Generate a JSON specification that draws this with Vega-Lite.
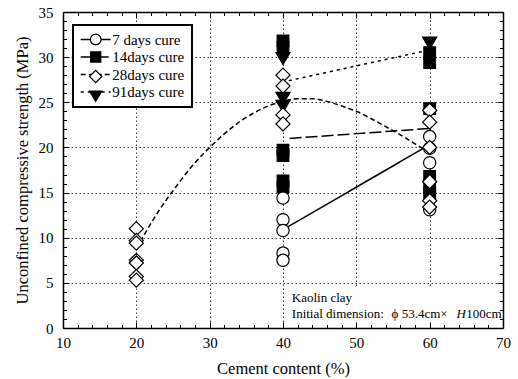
{
  "$schema": "https://vega.github.io/schema/vega-lite/v6.json",
  "width": 440,
  "height": 316,
  "autosize": {"type": "none"},
  "padding": {"left": 63, "top": 12, "right": 15, "bottom": 51},
  "background": "white",
  "config": {
    "view": {"stroke": null},
    "font": "Liberation Serif, Times New Roman, serif",
    "axis": {
      "labelFont": "Liberation Serif, Times New Roman, serif", "titleFont": "Liberation Serif, Times New Roman, serif",
      "labelColor": "black", "titleColor": "black",
      "labelFontSize": 15, "titleFontSize": 16.5, "titleFontWeight": "normal",
      "domainColor": "black", "tickColor": "black",
      "labelFlush": false, "labelOverlap": false
    },
    "legend": {"labelFont": "Liberation Serif, Times New Roman, serif", "labelFontSize": 15, "labelColor": "black"}
  },
  "datasets": {
    "points": [
      {"series": "14d", "x": 40, "y": 31.8},
      {"series": "14d", "x": 40, "y": 31.1},
      {"series": "14d", "x": 40, "y": 19.7},
      {"series": "14d", "x": 40, "y": 19.1},
      {"series": "14d", "x": 40, "y": 16.3},
      {"series": "14d", "x": 40, "y": 15.6},
      {"series": "14d", "x": 60, "y": 30.5},
      {"series": "14d", "x": 60, "y": 29.4},
      {"series": "14d", "x": 60, "y": 24.3},
      {"series": "14d", "x": 60, "y": 16.8},
      {"series": "14d", "x": 60, "y": 15.7},
      {"series": "14d", "x": 60, "y": 14.9},
      {"series": "91d", "x": 40, "y": 30.0},
      {"series": "91d", "x": 40, "y": 25.6},
      {"series": "91d", "x": 40, "y": 24.7},
      {"series": "91d", "x": 60, "y": 31.7},
      {"series": "7d", "x": 40, "y": 14.4},
      {"series": "7d", "x": 40, "y": 12.0},
      {"series": "7d", "x": 40, "y": 10.8},
      {"series": "7d", "x": 40, "y": 8.3},
      {"series": "7d", "x": 40, "y": 7.5},
      {"series": "7d", "x": 60, "y": 21.2},
      {"series": "7d", "x": 60, "y": 19.9},
      {"series": "7d", "x": 60, "y": 18.3},
      {"series": "7d", "x": 60, "y": 13.1},
      {"series": "28d", "x": 20, "y": 11.0},
      {"series": "28d", "x": 20, "y": 9.7},
      {"series": "28d", "x": 20, "y": 9.4},
      {"series": "28d", "x": 20, "y": 7.5},
      {"series": "28d", "x": 20, "y": 7.2},
      {"series": "28d", "x": 20, "y": 5.7},
      {"series": "28d", "x": 20, "y": 5.3},
      {"series": "28d", "x": 40, "y": 28.0},
      {"series": "28d", "x": 40, "y": 26.8},
      {"series": "28d", "x": 40, "y": 23.6},
      {"series": "28d", "x": 40, "y": 22.6},
      {"series": "28d", "x": 60, "y": 24.1},
      {"series": "28d", "x": 60, "y": 22.8},
      {"series": "28d", "x": 60, "y": 20.0},
      {"series": "28d", "x": 60, "y": 16.2},
      {"series": "28d", "x": 60, "y": 14.1},
      {"series": "28d", "x": 60, "y": 13.4}
    ],
    "lines": [
      {"curve": "7 days cure", "x": 40, "y": 10.9},
      {"curve": "7 days cure", "x": 60, "y": 20.3},
      {"curve": "14days cure", "x": 40.9, "y": 21.0},
      {"curve": "14days cure", "x": 60, "y": 22.1},
      {"curve": "91days cure", "x": 40.8, "y": 27.4},
      {"curve": "91days cure", "x": 60, "y": 30.8},
      {"curve": "28days cure", "x": 20, "y": 8.8},
      {"curve": "28days cure", "x": 21, "y": 10.2},
      {"curve": "28days cure", "x": 22, "y": 11.6},
      {"curve": "28days cure", "x": 23, "y": 12.9},
      {"curve": "28days cure", "x": 24, "y": 14.1},
      {"curve": "28days cure", "x": 25, "y": 15.2},
      {"curve": "28days cure", "x": 26, "y": 16.3},
      {"curve": "28days cure", "x": 28, "y": 18.3},
      {"curve": "28days cure", "x": 30, "y": 20.0},
      {"curve": "28days cure", "x": 32, "y": 21.5},
      {"curve": "28days cure", "x": 34, "y": 22.8},
      {"curve": "28days cure", "x": 36, "y": 23.8},
      {"curve": "28days cure", "x": 38, "y": 24.6},
      {"curve": "28days cure", "x": 40, "y": 25.1},
      {"curve": "28days cure", "x": 42, "y": 25.4},
      {"curve": "28days cure", "x": 44, "y": 25.4},
      {"curve": "28days cure", "x": 46, "y": 25.1},
      {"curve": "28days cure", "x": 48, "y": 24.6},
      {"curve": "28days cure", "x": 50, "y": 24.0},
      {"curve": "28days cure", "x": 52, "y": 23.2},
      {"curve": "28days cure", "x": 54, "y": 22.3},
      {"curve": "28days cure", "x": 56, "y": 21.4},
      {"curve": "28days cure", "x": 58, "y": 20.4},
      {"curve": "28days cure", "x": 60, "y": 19.4}
    ],
    "box": [{"x1": 40.3, "x2": 70, "y1": 0, "y2": 4.55}],
    "note1": [{"x": 41.2, "y": 3.3, "t": "Kaolin clay"}],
    "note2": [
      {"x": 41.2, "y": 1.6, "t": "Initial dimension:"},
      {"x": 54.8, "y": 1.6, "t": "ϕ 53.4cm×"}
    ],
    "note3": [{"x": 64.95, "y": 1.6, "t": "H"}],
    "note4": [{"x": 69.8, "y": 1.6, "t": "100cm"}]
  },
  "layer": [
    {
      "data": {"name": "box"},
      "mark": {"type": "rect", "fill": "white", "stroke": null},
      "encoding": {
        "x": {"field": "x1", "type": "quantitative", "scale": {"domain": [10, 70], "nice": false, "zero": false},
          "axis": {"orient": "bottom", "values": [10, 20, 30, 40, 50, 60, 70], "ticks": false, "domain": false, "grid": true,
            "gridColor": "black", "gridDash": [1.5, 2.5], "gridWidth": 0.8, "labelPadding": 7,
            "title": "Cement content (%)", "titlePadding": 10, "zindex": 0}},
        "x2": {"field": "x2"},
        "y": {"field": "y1", "type": "quantitative", "scale": {"domain": [0, 35], "nice": false},
          "axis": {"orient": "left", "values": [0, 5, 10, 15, 20, 25, 30, 35], "ticks": false, "domain": false, "grid": true,
            "gridColor": "black", "gridDash": [1.5, 2.5], "gridWidth": 0.8, "labelPadding": 10,
            "title": "Unconfined compressive strength (MPa)", "titlePadding": 8, "zindex": 0}},
        "y2": {"field": "y2"}
      }
    },
    {
      "data": {"name": "lines"},
      "mark": {"type": "line", "color": "black", "strokeWidth": 1.5, "interpolate": "monotone"},
      "encoding": {
        "x": {"field": "x", "type": "quantitative", "scale": {"domain": [10, 70], "nice": false, "zero": false},
          "axis": {"orient": "bottom", "values": [10, 20, 30, 40, 50, 60, 70], "labels": false, "grid": false,
            "domain": true, "domainWidth": 1.5, "tickSize": -6, "tickWidth": 1, "title": null, "zindex": 1}},
        "y": {"field": "y", "type": "quantitative", "scale": {"domain": [0, 35], "nice": false},
          "axis": {"orient": "left", "values": [0, 5, 10, 15, 20, 25, 30, 35], "labels": false, "grid": false,
            "domain": true, "domainWidth": 1.5, "tickSize": -6, "tickWidth": 1, "title": null, "zindex": 1}},
        "detail": {"field": "curve"},
        "strokeDash": {"field": "curve", "type": "nominal",
          "scale": {"domain": ["7 days cure", "14days cure", "28days cure", "91days cure"],
                    "range": [[1, 0], [12, 4], [5, 3], [3, 4]]},
          "legend": {"orient": "none", "legendX": 10, "legendY": 13, "title": null,
            "symbolType": "M-3,0H3", "symbolSize": 100, "symbolStrokeColor": "black", "symbolStrokeWidth": 1.5,
            "symbolOffset": 8.2, "labelOffset": 9, "padding": 7, "rowPadding": 1.5,
            "fillColor": "white", "strokeColor": "black", "zindex": 1,
            "encode": {"legend": {"update": {"strokeWidth": {"value": 2}}}}}}
      }
    },
    {
      "data": {"name": "points"},
      "mark": {"type": "point", "filled": true, "strokeWidth": 1.2, "size": 150, "opacity": 1},
      "encoding": {
        "x": {"field": "x", "type": "quantitative", "scale": {"domain": [10, 70], "nice": false, "zero": false},
          "axis": {"orient": "top", "values": [10, 20, 30, 40, 50, 60, 70], "labels": false, "grid": false,
            "domain": true, "domainWidth": 1.5, "tickSize": -6, "tickWidth": 1, "title": null, "zindex": 1}},
        "y": {"field": "y", "type": "quantitative", "scale": {"domain": [0, 35], "nice": false},
          "axis": {"orient": "right", "values": [0, 5, 10, 15, 20, 25, 30, 35], "labels": false, "grid": false,
            "domain": true, "domainWidth": 1.5, "tickSize": -6, "tickWidth": 1, "title": null, "zindex": 1}},
        "shape": {"field": "series", "type": "nominal",
          "scale": {"domain": ["7d", "14d", "28d", "91d"],
                    "range": ["circle", "M-0.95,-0.95H0.95V0.95H-0.95Z", "M-1.15,0L0,-1.15L1.15,0L0,1.15Z", "M-1.15,-0.75L1.15,-0.75L0,1.2Z"]},
          "legend": {"orient": "none", "legendX": 10, "legendY": 13, "title": null,
            "symbolSize": 115, "symbolStrokeWidth": 1.2,
            "symbolOffset": 8.2, "labelOffset": 9, "padding": 7, "rowPadding": 1.5,
            "labelExpr": "''", "zindex": 2}},
        "fill": {"field": "series", "type": "nominal",
          "scale": {"domain": ["7d", "14d", "28d", "91d"],
                    "range": ["white", "black", "white", "black"]},
          "legend": {"orient": "none", "legendX": 10, "legendY": 13, "title": null,
            "symbolSize": 115, "symbolStrokeWidth": 1.2,
            "symbolOffset": 8.2, "labelOffset": 9, "padding": 7, "rowPadding": 1.5,
            "labelExpr": "''", "zindex": 2}},
        "stroke": {"field": "series", "type": "nominal",
          "scale": {"domain": ["7d", "14d", "28d", "91d"],
                    "range": ["black", "black", "black", "black"]},
          "legend": {"orient": "none", "legendX": 10, "legendY": 13, "title": null,
            "symbolSize": 115, "symbolStrokeWidth": 1.2,
            "symbolOffset": 8.2, "labelOffset": 9, "padding": 7, "rowPadding": 1.5,
            "labelExpr": "''", "zindex": 2}}
      }
    },
    {
      "data": {"name": "note1"},
      "mark": {"type": "text", "font": "Liberation Serif, Times New Roman, serif", "fontSize": 13, "align": "left", "baseline": "middle", "color": "black"},
      "encoding": {
        "x": {"field": "x", "type": "quantitative", "scale": {"domain": [10, 70], "nice": false, "zero": false},
          "axis": {"orient": "bottom", "values": [12, 14, 16, 18, 22, 24, 26, 28, 32, 34, 36, 38, 42, 44, 46, 48, 52, 54, 56, 58, 62, 64, 66, 68],
            "labels": false, "grid": false, "domain": false, "tickSize": -3.5, "tickWidth": 1, "title": null, "zindex": 1}},
        "y": {"field": "y", "type": "quantitative", "scale": {"domain": [0, 35], "nice": false},
          "axis": {"orient": "left", "values": [1, 2, 3, 4, 6, 7, 8, 9, 11, 12, 13, 14, 16, 17, 18, 19, 21, 22, 23, 24, 26, 27, 28, 29, 31, 32, 33, 34],
            "labels": false, "grid": false, "domain": false, "tickSize": -3.5, "tickWidth": 1, "title": null, "zindex": 1}},
        "text": {"field": "t"}
      }
    },
    {
      "data": {"name": "note2"},
      "mark": {"type": "text", "font": "Liberation Serif, Times New Roman, serif", "fontSize": 13, "align": "left", "baseline": "middle", "color": "black"},
      "encoding": {
        "x": {"field": "x", "type": "quantitative", "scale": {"domain": [10, 70], "nice": false, "zero": false},
          "axis": {"orient": "top", "values": [12, 14, 16, 18, 22, 24, 26, 28, 32, 34, 36, 38, 42, 44, 46, 48, 52, 54, 56, 58, 62, 64, 66, 68],
            "labels": false, "grid": false, "domain": false, "tickSize": -3.5, "tickWidth": 1, "title": null, "zindex": 1}},
        "y": {"field": "y", "type": "quantitative", "scale": {"domain": [0, 35], "nice": false},
          "axis": {"orient": "right", "values": [1, 2, 3, 4, 6, 7, 8, 9, 11, 12, 13, 14, 16, 17, 18, 19, 21, 22, 23, 24, 26, 27, 28, 29, 31, 32, 33, 34],
            "labels": false, "grid": false, "domain": false, "tickSize": -3.5, "tickWidth": 1, "title": null, "zindex": 1}},
        "text": {"field": "t"}
      }
    },
    {
      "data": {"name": "note3"},
      "mark": {"type": "text", "font": "Liberation Serif, Times New Roman, serif", "fontSize": 13, "fontStyle": "italic", "align": "right", "baseline": "middle", "color": "black"},
      "encoding": {
        "x": {"field": "x", "type": "quantitative", "scale": {"domain": [10, 70], "nice": false, "zero": false}, "axis": null},
        "y": {"field": "y", "type": "quantitative", "scale": {"domain": [0, 35], "nice": false}, "axis": null},
        "text": {"field": "t"}
      }
    },
    {
      "data": {"name": "note4"},
      "mark": {"type": "text", "font": "Liberation Serif, Times New Roman, serif", "fontSize": 13, "align": "right", "baseline": "middle", "color": "black"},
      "encoding": {
        "x": {"field": "x", "type": "quantitative", "scale": {"domain": [10, 70], "nice": false, "zero": false}, "axis": null},
        "y": {"field": "y", "type": "quantitative", "scale": {"domain": [0, 35], "nice": false}, "axis": null},
        "text": {"field": "t"}
      }
    }
  ],
  "resolve": {"axis": {"x": "independent", "y": "independent"}}
}
